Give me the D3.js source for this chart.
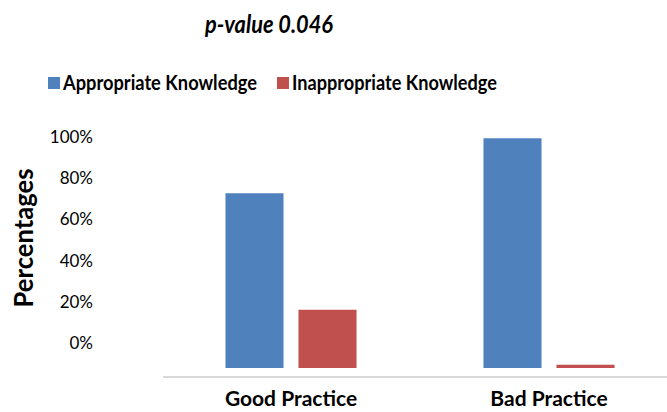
<!DOCTYPE html>
<html>
<head>
<meta charset="utf-8">
<script src="https://cdn.jsdelivr.net/npm/d3@7"></script>
<style>
  body { margin: 0; background: #fff; }
  svg { display: block; }
</style>
</head>
<body>
<div id="chart"></div>
<script>

// data
var categories = ["Good Practice", "Bad Practice"];
var seriesNames = ["Appropriate Knowledge", "Inappropriate Knowledge"];
var appropriate = [0.75, 0.986];
var inappropriate = [0.25, 0.014];
var tickValues = [0, 0.2, 0.4, 0.6, 0.8, 1.0];
var seriesColours = ["#4f81bd", "#c0504d"];


var width = 667, height = 412;
var fontFamily = "Lato, 'Open Sans', sans-serif";

var svg = d3.select("#chart").append("svg")
  .attr("width", width)
  .attr("height", height);


//--------------------------------------
// SCALES
//--------------------------------------

var x0 = d3.scaleBand()
  .domain(categories)
  .range([162, 678])
  .paddingInner(0.492)
  .paddingOuter(0.246);

var x1 = d3.scaleBand()
  .domain(seriesNames)
  .range([0, x0.bandwidth()])
  .paddingInner(0.205);

// bars sit on their own baseline
var y = d3.scaleLinear().domain([0, 1]).range([368, 135]);

// the tick labels in the picture are placed higher than the bar baseline
var yTicks = d3.scaleLinear().domain([0, 1]).range([343, 137]);


var rows = categories.map(function(c, i) {
  return { cat: c, values: [appropriate[i], inappropriate[i]] };
});


//--------------------------------------
// BARS
//--------------------------------------

var groups = svg.append("g").selectAll("g")
  .data(rows).enter().append("g")
  .attr("transform", function(d) { return "translate(" + x0(d.cat) + ",0)"; });

groups.selectAll("rect")
  .data(function(d) { return d.values.map(function(v, i) { return { key: seriesNames[i], v: v, i: i }; }); })
  .enter().append("rect")
  .attr("x", function(d) { return x1(d.key); })
  .attr("y", function(d) { return y(d.v); })
  .attr("width", x1.bandwidth())
  .attr("height", function(d) { return y(0) - y(d.v); })
  .attr("fill", function(d) { return seriesColours[d.i]; });


//--------------------------------------
// AXES
//--------------------------------------

svg.append("line")
  .attr("x1", 163).attr("x2", width)
  .attr("y1", 377).attr("y2", 377)
  .attr("stroke", "#d9d9d9")
  .attr("stroke-width", 2);

var yAxis = svg.append("g")
  .attr("transform", "translate(93,0)")
  .call(d3.axisLeft(yTicks).tickValues(tickValues).tickSize(0).tickPadding(0).tickFormat(d3.format(".0%")));

yAxis.select(".domain").remove();
yAxis.selectAll("text")
  .attr("font-family", fontFamily)
  .attr("font-size", 17)
  .attr("fill", "#000");

var xAxis = svg.append("g")
  .attr("transform", "translate(0,406)")
  .call(d3.axisBottom(x0).tickSize(0).tickPadding(0));

xAxis.select(".domain").remove();
xAxis.selectAll("text")
  .attr("font-family", fontFamily)
  .attr("font-weight", "bold")
  .attr("font-size", 21)
  .attr("fill", "#000")
  .attr("dy", 0);

svg.append("text")
  .attr("transform", "translate(33,238) rotate(-90)")
  .attr("text-anchor", "middle")
  .attr("font-family", fontFamily)
  .attr("font-weight", "bold")
  .attr("font-size", 26)
  .attr("textLength", 139)
  .attr("lengthAdjust", "spacingAndGlyphs")
  .text("Percentages");


//--------------------------------------
// TITLE AND LEGEND
//--------------------------------------

svg.append("text")
  .attr("x", 269).attr("y", 33)
  .attr("text-anchor", "middle")
  .attr("font-family", fontFamily)
  .attr("font-weight", "bold")
  .attr("font-style", "italic")
  .attr("font-size", 24)
  .attr("textLength", 128)
  .attr("lengthAdjust", "spacingAndGlyphs")
  .text("p-value 0.046");

var legendX = [48, 277];
var legendTextLen = [194, 205];

var legend = svg.append("g").selectAll("g")
  .data(seriesNames).enter().append("g")
  .attr("transform", function(d, i) { return "translate(" + legendX[i] + ",0)"; });

legend.append("rect")
  .attr("x", 0).attr("y", 77)
  .attr("width", 12).attr("height", 12)
  .attr("fill", function(d, i) { return seriesColours[i]; });

legend.append("text")
  .attr("x", 15).attr("y", 90)
  .attr("font-family", fontFamily)
  .attr("font-weight", "bold")
  .attr("font-size", 21)
  .attr("textLength", function(d, i) { return legendTextLen[i]; })
  .attr("lengthAdjust", "spacingAndGlyphs")
  .text(function(d) { return d; });

</script>
</body>
</html>
